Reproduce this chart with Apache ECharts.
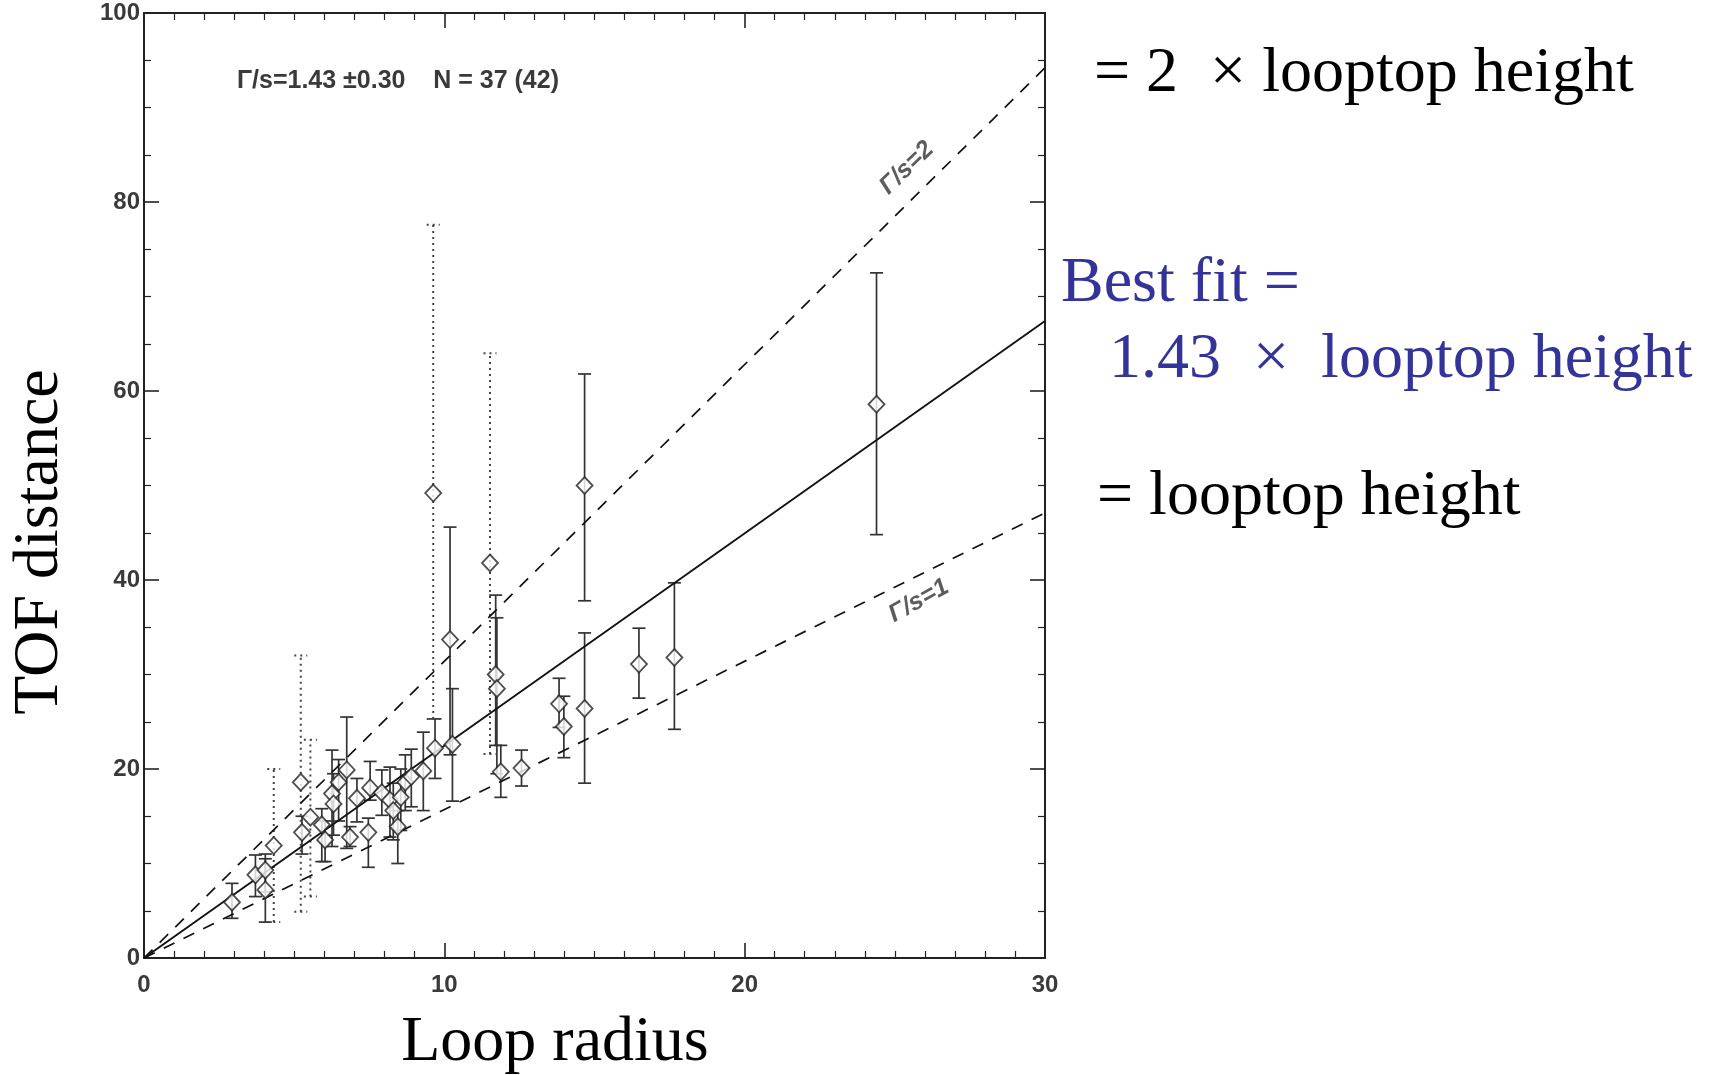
<!DOCTYPE html>
<html>
<head>
<meta charset="utf-8">
<script src="https://cdn.jsdelivr.net/npm/echarts@6/dist/echarts.min.js"></script>
<style>
html,body{margin:0;padding:0;background:#fff;}
#chart{width:1711px;height:1075px;}
</style>
</head>
<body>
<div id="chart"></div>
<script>
// ---- data ----
// solid error-bar points: loop radius, TOF distance, lower, upper
const solidX  = [2.93, 3.71, 4.04, 4.04, 5.26, 5.92, 6.03, 6.26, 6.31, 6.48, 6.75, 6.86, 7.09, 7.47, 7.53, 7.92, 8.19, 8.30, 8.45, 8.55, 8.70, 8.90, 9.30, 9.69, 10.27, 10.19, 11.71, 11.75, 11.88, 12.57, 13.82, 13.98, 14.67, 14.67, 16.48, 17.66, 24.39];
const solidY  = [5.9, 8.8, 9.3, 7.2, 13.3, 14.1, 12.5, 17.4, 16.3, 18.6, 19.9, 12.8, 16.9, 13.3, 18.0, 17.5, 16.7, 15.6, 13.9, 17.0, 18.6, 19.2, 19.8, 22.2, 22.6, 33.7, 30.0, 28.5, 19.7, 20.1, 26.9, 24.5, 50.0, 26.4, 31.1, 31.8, 58.6];
const solidLo = [4.2, 6.5, 7.0, 3.8, 11.0, 10.2, 10.2, 11.8, 13.0, 14.5, 11.6, 11.8, 14.4, 9.6, 16.7, 15.1, 12.8, 12.5, 10.0, 13.5, 15.6, 16.0, 15.6, 19.0, 16.6, 21.5, 22.5, 19.5, 17.0, 18.2, 24.4, 21.2, 37.8, 18.5, 27.5, 24.2, 44.8];
const solidHi = [7.9, 10.9, 11.0, 10.5, 15.0, 15.8, 14.5, 22.0, 19.5, 21.0, 25.5, 13.9, 19.0, 14.8, 20.8, 19.9, 20.2, 18.5, 15.6, 20.0, 21.5, 22.1, 23.9, 25.3, 28.5, 45.6, 38.4, 36.0, 22.5, 22.0, 29.6, 27.7, 61.8, 34.4, 34.9, 39.7, 72.5];
// dotted (excluded) points
const dotX  = [4.32, 5.22, 5.54, 9.63, 11.52];
const dotY  = [11.9, 18.6, 14.9, 49.2, 41.8];
const dotLo = [3.8, 4.9, 6.5, 25.3, 21.6];
const dotHi = [20.0, 32.0, 23.1, 77.6, 64.0];
// reference lines (end points)
const fitLine   = [[0, 0], [30, 67.4]];
const upperLine = [[0, 0], [30, 94.2]];
const lowerLine = [[0, 0], [30, 47.1]];
const lineLabels = [
  { name: 'Γ/s=2', value: [25.4, 83.6], rot: 44 },
  { name: 'Γ/s=1', value: [25.8, 37.8], rot: 29 }
];
const xTicks = [0, 10, 20, 30];
const yTicks = [0, 20, 40, 60, 80, 100];
const statText = 'Γ/s=1.43 ±0.30    N = 37 (42)';
const xTitle = 'Loop radius';
const yTitle = 'TOF distance';
const note1 = '= 2  × looptop height';
const note2 = 'Best fit =';
const note3 = '1.43  ×  looptop height';
const note4 = '= looptop height';

// ---- build ----
const solidPts = solidX.map((x, i) => [x, solidY[i]]);
const solidErr = solidX.map((x, i) => [x, solidLo[i], solidHi[i]]);
const dotPts = dotX.map((x, i) => [x, dotY[i]]);
const dotErr = dotX.map((x, i) => [x, dotLo[i], dotHi[i]]);

function errRender(dashed) {
  return function (params, api) {
    const x = api.value(0), lo = api.value(1), hi = api.value(2);
    const a = api.coord([x, lo]), b = api.coord([x, hi]);
    const st = { stroke: dashed ? '#444' : '#333', lineWidth: dashed ? 2 : 1.7, lineDash: dashed ? [2, 4] : null };
    const w = 6.5;
    return {
      type: 'group',
      children: [
        { type: 'line', shape: { x1: a[0], y1: a[1], x2: b[0], y2: b[1] }, style: st },
        { type: 'line', shape: { x1: a[0] - w, y1: a[1], x2: a[0] + w, y2: a[1] }, style: st },
        { type: 'line', shape: { x1: b[0] - w, y1: b[1], x2: b[0] + w, y2: b[1] }, style: st }
      ]
    };
  };
}

const tickFont = { fontFamily: 'Liberation Sans', fontSize: 24, fontWeight: 'bold', color: '#3a3a3a' };
const axisLine = { show: true, onZero: false, lineStyle: { color: '#222', width: 2 } };
const majorTick = { show: true, inside: true, length: 15, lineStyle: { color: '#222', width: 1.6 } };

const chart = echarts.init(document.getElementById('chart'));
chart.setOption({
  animation: false,
  backgroundColor: '#fff',
  grid: { left: 144, top: 13, width: 901, height: 945 },
  xAxis: [
    { type: 'value', min: 0, max: 30, interval: 10, position: 'bottom',
      axisLine, splitLine: { show: false }, axisTick: majorTick,
      minorTick: { show: true, splitNumber: 10, length: 7, lineStyle: { color: '#222', width: 1.2 } },
      axisLabel: Object.assign({ margin: 15, formatter: v => xTicks.includes(v) ? String(v) : '' }, tickFont) },
    { type: 'value', min: 0, max: 30, interval: 10, position: 'top',
      axisLine, splitLine: { show: false }, axisTick: majorTick,
      minorTick: { show: true, splitNumber: 10, length: 7, lineStyle: { color: '#222', width: 1.2 } },
      axisLabel: { show: false } }
  ],
  yAxis: [
    { type: 'value', min: 0, max: 100, interval: 20, position: 'left',
      axisLine, splitLine: { show: false }, axisTick: majorTick,
      minorTick: { show: true, splitNumber: 4, length: 7, lineStyle: { color: '#222', width: 1.2 } },
      axisLabel: Object.assign({ margin: 4, formatter: v => yTicks.includes(v) ? String(v) : '' }, tickFont) },
    { type: 'value', min: 0, max: 100, interval: 20, position: 'right',
      axisLine, splitLine: { show: false }, axisTick: majorTick,
      minorTick: { show: true, splitNumber: 4, length: 7, lineStyle: { color: '#222', width: 1.2 } },
      axisLabel: { show: false } }
  ],
  series: [
    { type: 'line', data: upperLine, symbol: 'none', silent: true,
      lineStyle: { color: '#111', width: 1.7, type: [12, 10] } },
    { type: 'line', data: lowerLine, symbol: 'none', silent: true,
      lineStyle: { color: '#111', width: 1.7, type: [12, 10] } },
    { type: 'line', data: fitLine, symbol: 'none', silent: true,
      lineStyle: { color: '#111', width: 1.9 } },
    { type: 'custom', data: solidErr, renderItem: errRender(false), encode: { x: 0, y: [1, 2] }, z: 3 },
    { type: 'custom', data: dotErr, renderItem: errRender(true), encode: { x: 0, y: [1, 2] }, z: 3 },
    { type: 'scatter', data: solidPts.concat(dotPts), symbol: 'diamond', symbolSize: [16, 17], z: 5,
      itemStyle: { color: '#fff', borderColor: '#222', borderWidth: 1.8 } },
    { type: 'scatter', symbolSize: 0, z: 6, silent: true,
      data: lineLabels.map(d => ({ name: d.name, value: d.value,
        label: { show: true, rotate: d.rot, position: 'inside', formatter: '{b}',
          fontFamily: 'Liberation Sans', fontSize: 25, fontStyle: 'italic', fontWeight: 'bold', color: '#333' } })) }
  ],
  graphic: [
    { type: 'text', x: 237, y: 81, style: { text: statText, font: 'bold 25px "Liberation Sans"', fill: '#3a3a3a', textVerticalAlign: 'middle' } },
    { type: 'text', x: 555, y: 1043, style: { text: xTitle, font: '64px "Liberation Serif"', fill: '#000', textAlign: 'center', textVerticalAlign: 'middle' } },
    { type: 'text', x: 40, y: 542, rotation: Math.PI / 2, style: { text: yTitle, font: '64px "Liberation Serif"', fill: '#000', textAlign: 'center', textVerticalAlign: 'middle' } },
    { type: 'text', x: 1094, y: 74, style: { text: note1, font: '64px "Liberation Serif"', fill: '#000', textVerticalAlign: 'middle' } },
    { type: 'text', x: 1061, y: 284, style: { text: note2, font: '64px "Liberation Serif"', fill: '#33339a', textVerticalAlign: 'middle' } },
    { type: 'text', x: 1109, y: 360, style: { text: note3, font: '64px "Liberation Serif"', fill: '#33339a', textVerticalAlign: 'middle' } },
    { type: 'text', x: 1097, y: 497, style: { text: note4, font: '64px "Liberation Serif"', fill: '#000', textVerticalAlign: 'middle' } }
  ]
});
</script>
</body>
</html>
